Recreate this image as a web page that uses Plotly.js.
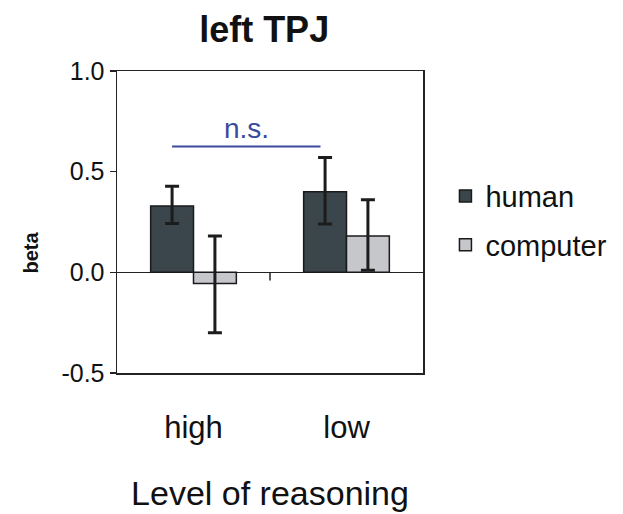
<!DOCTYPE html>
<html>
<head>
<meta charset="utf-8">
<script src="https://cdn.plot.ly/plotly-3.0.1.min.js"></script>
<style>html,body{margin:0;padding:0;background:#fff;}#chart{width:623px;height:514px;}</style>
</head>
<body>
<div id="chart"></div>
<script>
const categories = ["high", "low"];
const humanBeta = [0.33, 0.40];
const humanErrPlus = [0.097, 0.17];
const humanErrMinus = [0.087, 0.16];
const computerBeta = [-0.055, 0.18];
const computerErrPlus = [0.235, 0.18];
const computerErrMinus = [0.245, 0.17];
const seriesNames = ["human", "computer"];
const yTicks = [-0.5, 0.0, 0.5, 1.0];
const yTickText = ["-0.5", "0.0", "0.5", "1.0"];
const yTitle = "beta";
const sigLabel = "n.s.";
const sigLevel = 0.625;

const errStyle = {color: "#1c1c1c", thickness: 3, width: 7};
const traces = [
  {type: "bar", name: seriesNames[0], x: categories, y: humanBeta,
   marker: {color: "#3a464c", line: {color: "#1a1a1a", width: 1.5}},
   error_y: Object.assign({type: "data", symmetric: false, array: humanErrPlus, arrayminus: humanErrMinus}, errStyle),
   legendgroup: "a"},
  {type: "bar", name: seriesNames[1], x: categories, y: computerBeta,
   marker: {color: "#c5c7ca", line: {color: "#1a1a1a", width: 1.5}},
   error_y: Object.assign({type: "data", symmetric: false, array: computerErrPlus, arrayminus: computerErrMinus}, errStyle),
   legendgroup: "b"}
];

const layout = {
  width: 623, height: 514,
  margin: {l: 117, r: 200, t: 71, b: 141},
  paper_bgcolor: "#fff", plot_bgcolor: "#fff",
  font: {family: "Liberation Sans, Arial, sans-serif", color: "#111"},
  title: {text: "<b>left TPJ</b>", font: {size: 36, color: "#111"}, x: 0.424, xanchor: "center", y: 0.942, yanchor: "middle"},
  barmode: "group", bargap: 0.44, bargroupgap: 0,
  showlegend: true,
  legend: {xref: "container", yref: "container", x: 0.715, xanchor: "left", y: 0.668, yanchor: "top",
           font: {size: 29, color: "#111"}, tracegroupgap: 8, traceorder: "grouped", itemwidth: 30},
  xaxis: {type: "category", range: [-0.5, 1.5], showline: true, mirror: true, linecolor: "#222", linewidth: 1.5,
          ticks: "", tickfont: {size: 31, color: "#111"}, ticklabelstandoff: 26, showgrid: false,
          title: {text: "Level of reasoning", font: {size: 34, color: "#111"}, standoff: 37}},
  yaxis: {range: [-0.5, 1.0], tickvals: yTicks, ticktext: yTickText, ticks: "outside", ticklen: 6, tickwidth: 1.5, tickcolor: "#222",
          showline: true, mirror: true, linecolor: "#222", linewidth: 1.5, showgrid: false,
          zeroline: true, zerolinecolor: "#222", zerolinewidth: 1.5,
          tickfont: {size: 25, color: "#111"}},
  shapes: [
    {type: "line", xref: "x", yref: "y", x0: -0.14, x1: 0.83, y0: sigLevel, y1: sigLevel, line: {color: "#3a4a9e", width: 2}},
    {type: "line", xref: "x", yref: "y", x0: 0.5, x1: 0.5, y0: 0, y1: -0.04, line: {color: "#222", width: 1.5}}
  ],
  annotations: [
    {xref: "x", yref: "y", x: 0.345, y: sigLevel, yanchor: "bottom", yshift: 1, text: sigLabel, showarrow: false, font: {size: 28, color: "#3a4a9e"}},
    {xref: "paper", yref: "y", x: -0.28, y: 0.1, xanchor: "center", yanchor: "middle", textangle: -90, text: "<b>" + yTitle + "</b>", showarrow: false, font: {size: 20, color: "#111"}}
  ]
};

Plotly.newPlot("chart", traces, layout, {displayModeBar: false, staticPlot: true});
</script>
</body>
</html>
